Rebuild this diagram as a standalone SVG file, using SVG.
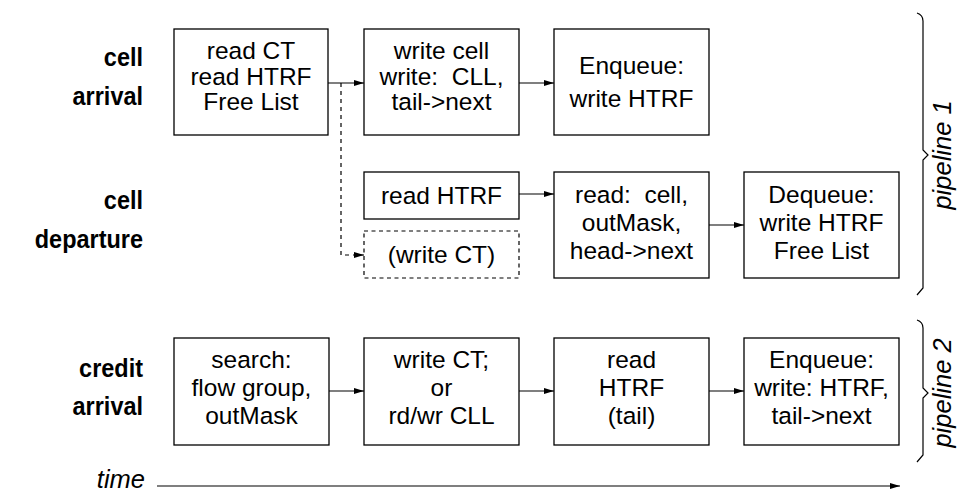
<svg xmlns="http://www.w3.org/2000/svg" width="957" height="494" viewBox="0 0 957 494">
  <style>
    .box { fill: #fff; stroke: #000; stroke-width: 1.3; }
    .dbox { fill: #fff; stroke: #000; stroke-width: 1.2; stroke-dasharray: 4 3.5; }
    .t { font-family: "Liberation Sans", Arial, sans-serif; font-size: 24.5px; text-anchor: middle; fill: #000; white-space: pre; }
    .lbl { font-family: "Liberation Sans", Arial, sans-serif; font-size: 25.5px; font-weight: bold; text-anchor: end; fill: #000; }
    .it { font-family: "Liberation Sans", Arial, sans-serif; font-size: 25.5px; font-style: italic; fill: #000; }
    .edge { fill: none; stroke: #000; stroke-width: 1.2; }
    .dash { stroke-dasharray: 4 4; }
    .brace { fill: none; stroke: #000; stroke-width: 1.2; }
  </style>
  <defs>
    <marker id="ah" viewBox="0 0 10 8" refX="10" refY="4" markerWidth="10" markerHeight="8" markerUnits="userSpaceOnUse" orient="auto">
      <path d="M0,1 L10,4 L0,7 Z" fill="#000"/>
    </marker>
  </defs>

  <!-- row labels (bold, slightly condensed) -->
  <g id="label-cell-arrival">
    <text class="lbl" transform="translate(143,66) scale(0.92,1)">cell</text>
    <text class="lbl" transform="translate(143,105) scale(0.92,1)">arrival</text>
  </g>
  <g id="label-cell-departure">
    <text class="lbl" transform="translate(143,209) scale(0.92,1)">cell</text>
    <text class="lbl" transform="translate(143,248) scale(0.92,1)">departure</text>
  </g>
  <g id="label-credit-arrival">
    <text class="lbl" transform="translate(143,377) scale(0.92,1)">credit</text>
    <text class="lbl" transform="translate(143,415) scale(0.92,1)">arrival</text>
  </g>

  <!-- cell arrival stages -->
  <g id="ca-read">
    <rect class="box" x="174" y="29" width="154" height="106"/>
    <text class="t" x="251" y="59">read CT</text>
    <text class="t" x="251" y="85">read HTRF</text>
    <text class="t" x="251" y="110">Free List</text>
  </g>
  <g id="ca-write">
    <rect class="box" x="364" y="29" width="155" height="106"/>
    <text class="t" x="441.5" y="59">write cell</text>
    <text class="t" x="441.5" y="85">write:  CLL,</text>
    <text class="t" x="441.5" y="110">tail-&gt;next</text>
  </g>
  <g id="ca-enqueue">
    <rect class="box" x="554" y="29" width="155" height="106"/>
    <text class="t" x="631.5" y="74">Enqueue:</text>
    <text class="t" x="631.5" y="107">write HTRF</text>
  </g>

  <!-- cell departure stages -->
  <g id="cd-read-htrf">
    <rect class="box" x="364" y="172" width="155" height="47"/>
    <text class="t" x="441.5" y="204">read HTRF</text>
  </g>
  <g id="cd-write-ct">
    <rect class="dbox" x="364" y="231" width="155" height="47"/>
    <text class="t" x="441.5" y="263">(write CT)</text>
  </g>
  <g id="cd-read-cell">
    <rect class="box" x="554" y="172" width="155" height="106"/>
    <text class="t" x="631.5" y="203">read:  cell,</text>
    <text class="t" x="631.5" y="231">outMask,</text>
    <text class="t" x="631.5" y="259">head-&gt;next</text>
  </g>
  <g id="cd-dequeue">
    <rect class="box" x="744" y="172" width="155" height="106"/>
    <text class="t" x="821.5" y="203">Dequeue:</text>
    <text class="t" x="821.5" y="231">write HTRF</text>
    <text class="t" x="821.5" y="259">Free List</text>
  </g>

  <!-- credit arrival stages -->
  <g id="cr-search">
    <rect class="box" x="174" y="338" width="155" height="107"/>
    <text class="t" x="251.5" y="368">search:</text>
    <text class="t" x="251.5" y="396">flow group,</text>
    <text class="t" x="251.5" y="424">outMask</text>
  </g>
  <g id="cr-write">
    <rect class="box" x="364" y="338" width="155" height="107"/>
    <text class="t" x="441.5" y="368">write CT;</text>
    <text class="t" x="441.5" y="396">or</text>
    <text class="t" x="441.5" y="424">rd/wr CLL</text>
  </g>
  <g id="cr-read">
    <rect class="box" x="554" y="338" width="155" height="107"/>
    <text class="t" x="631.5" y="368">read</text>
    <text class="t" x="631.5" y="396">HTRF</text>
    <text class="t" x="631.5" y="424">(tail)</text>
  </g>
  <g id="cr-enqueue">
    <rect class="box" x="744" y="338" width="155" height="107"/>
    <text class="t" x="821.5" y="368">Enqueue:</text>
    <text class="t" x="821.5" y="396">write: HTRF,</text>
    <text class="t" x="821.5" y="424">tail-&gt;next</text>
  </g>

  <!-- connectors -->
  <g id="connectors">
    <path class="edge" d="M328,83 H364" marker-end="url(#ah)"/>
    <path class="edge" d="M519,83 H554" marker-end="url(#ah)"/>
    <path class="edge dash" d="M341,83 V255 H364" marker-end="url(#ah)"/>
    <path class="edge" d="M519,194 H554" marker-end="url(#ah)"/>
    <path class="edge" d="M709,225 H744" marker-end="url(#ah)"/>
    <path class="edge" d="M329,391 H364" marker-end="url(#ah)"/>
    <path class="edge" d="M519,391 H554" marker-end="url(#ah)"/>
    <path class="edge" d="M709,391 H744" marker-end="url(#ah)"/>
  </g>

  <!-- pipeline braces -->
  <g id="pipeline-1">
    <path class="brace" d="M917,13 Q923,15 923,21 V150 L928,155 L923,160 V288 L917,295"/>
    <text class="it" transform="translate(951,155) rotate(-90)" text-anchor="middle">pipeline 1</text>
  </g>
  <g id="pipeline-2">
    <path class="brace" d="M917,320 Q923,322 923,328 V388 L928,393 L923,398 V455 L917,462"/>
    <text class="it" transform="translate(951,393) rotate(-90)" text-anchor="middle">pipeline 2</text>
  </g>

  <!-- time axis -->
  <g id="time-axis">
    <text class="it" x="145" y="488" text-anchor="end">time</text>
    <path class="edge" d="M157,486 H900" marker-end="url(#ah)"/>
  </g>
</svg>
